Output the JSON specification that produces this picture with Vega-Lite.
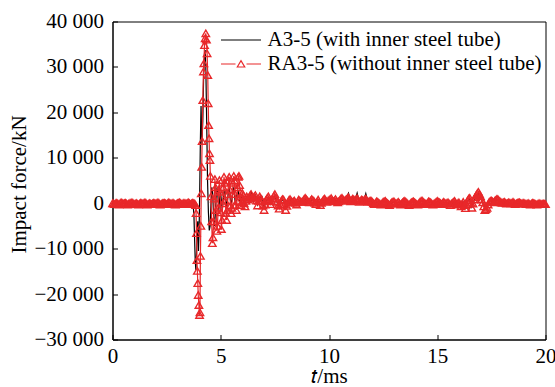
{
"$schema": "https://vega.github.io/schema/vega-lite/v6.json",
"width": 433, "height": 318,
"autosize": {"type": "none"},
"padding": {"left": 112.5, "top": 21.5, "right": 9.5, "bottom": 47.5},
"background": "white",
"config": {
 "font": "Liberation Serif",
 "view": {"stroke": "black", "strokeWidth": 1},
 "axis": {"domainColor": "black", "domainWidth": 1, "tickColor": "black", "tickSize": -5, "tickWidth": 1, "labelFontSize": 21, "labelColor": "black", "titleFontSize": 21, "titleColor": "black", "titleFontWeight": "normal", "grid": false, "labelFont": "Liberation Serif", "titleFont": "Liberation Serif"}
},
"data": {"values": [
{"s":"A","t":0,"f":0},{"s":"A","t":0.2,"f":100},{"s":"A","t":0.4,"f":-100},{"s":"A","t":0.6,"f":50},{"s":"A","t":0.8,"f":-150},{"s":"A","t":1.0,"f":100},{"s":"A","t":1.2,"f":-50},{"s":"A","t":1.4,"f":150},{"s":"A","t":1.6,"f":-100},{"s":"A","t":1.8,"f":0},{"s":"A","t":2.0,"f":100},{"s":"A","t":2.2,"f":-150},{"s":"A","t":2.4,"f":50},{"s":"A","t":2.6,"f":-50},{"s":"A","t":2.8,"f":150},{"s":"A","t":3.0,"f":-100},{"s":"A","t":3.2,"f":50},{"s":"A","t":3.4,"f":-100},{"s":"A","t":3.6,"f":100},{"s":"A","t":3.68,"f":0},{"s":"A","t":3.72,"f":-200},{"s":"A","t":3.76,"f":-2500},{"s":"A","t":3.79,"f":-7500},{"s":"A","t":3.82,"f":-12500},{"s":"A","t":3.85,"f":-14700},{"s":"A","t":3.88,"f":-11500},{"s":"A","t":3.91,"f":-5000},{"s":"A","t":3.94,"f":-4000},{"s":"A","t":3.97,"f":-10500},{"s":"A","t":4.0,"f":-6000},{"s":"A","t":4.03,"f":3000},{"s":"A","t":4.06,"f":14000},{"s":"A","t":4.09,"f":21400},{"s":"A","t":4.13,"f":13000},{"s":"A","t":4.17,"f":18000},{"s":"A","t":4.21,"f":28000},{"s":"A","t":4.25,"f":33000},{"s":"A","t":4.28,"f":33700},{"s":"A","t":4.31,"f":30000},{"s":"A","t":4.35,"f":18000},{"s":"A","t":4.39,"f":5000},{"s":"A","t":4.43,"f":-2000},{"s":"A","t":4.47,"f":-6000},{"s":"A","t":4.51,"f":-5000},{"s":"A","t":4.55,"f":0},{"s":"A","t":4.59,"f":3500},{"s":"A","t":4.63,"f":2000},{"s":"A","t":4.67,"f":-3000},{"s":"A","t":4.71,"f":-5000},{"s":"A","t":4.75,"f":-2500},{"s":"A","t":4.79,"f":1500},{"s":"A","t":4.83,"f":3500},{"s":"A","t":4.87,"f":1500},{"s":"A","t":4.91,"f":-1500},{"s":"A","t":4.95,"f":1000},{"s":"A","t":4.99,"f":2500},{"s":"A","t":5.03,"f":500},{"s":"A","t":5.07,"f":-1500},{"s":"A","t":5.11,"f":500},{"s":"A","t":5.15,"f":2500},{"s":"A","t":5.19,"f":3000},{"s":"A","t":5.23,"f":1000},{"s":"A","t":5.27,"f":-1000},{"s":"A","t":5.31,"f":500},{"s":"A","t":5.35,"f":2500},{"s":"A","t":5.39,"f":3500},{"s":"A","t":5.43,"f":1500},{"s":"A","t":5.47,"f":-500},{"s":"A","t":5.51,"f":500},{"s":"A","t":5.55,"f":2500},{"s":"A","t":5.59,"f":3500},{"s":"A","t":5.63,"f":2000},{"s":"A","t":5.67,"f":0},{"s":"A","t":5.71,"f":500},{"s":"A","t":5.75,"f":2000},{"s":"A","t":5.79,"f":3000},{"s":"A","t":5.83,"f":2000},{"s":"A","t":5.87,"f":500},{"s":"A","t":5.91,"f":0},{"s":"A","t":5.95,"f":1200},
{"s":"A","t":6.0,"f":1500},{"s":"A","t":6.1,"f":-500},{"s":"A","t":6.2,"f":1000},{"s":"A","t":6.3,"f":500},{"s":"A","t":6.4,"f":2700},{"s":"A","t":6.5,"f":200},{"s":"A","t":6.6,"f":2000},{"s":"A","t":6.7,"f":-300},{"s":"A","t":6.8,"f":1200},{"s":"A","t":6.9,"f":1500},{"s":"A","t":7.0,"f":-800},{"s":"A","t":7.1,"f":600},{"s":"A","t":7.2,"f":1200},{"s":"A","t":7.3,"f":0},{"s":"A","t":7.4,"f":800},{"s":"A","t":7.5,"f":1500},{"s":"A","t":7.6,"f":200},{"s":"A","t":7.7,"f":-800},{"s":"A","t":7.8,"f":500},{"s":"A","t":7.9,"f":700},{"s":"A","t":8.0,"f":-1000},{"s":"A","t":8.1,"f":300},{"s":"A","t":8.2,"f":800},{"s":"A","t":8.3,"f":100},{"s":"A","t":8.4,"f":500},{"s":"A","t":8.5,"f":-200},{"s":"A","t":8.6,"f":700},{"s":"A","t":8.7,"f":200},{"s":"A","t":8.8,"f":400},{"s":"A","t":8.9,"f":1000},{"s":"A","t":9.0,"f":500},{"s":"A","t":9.1,"f":100},{"s":"A","t":9.2,"f":800},{"s":"A","t":9.3,"f":400},{"s":"A","t":9.4,"f":-100},{"s":"A","t":9.5,"f":700},{"s":"A","t":9.6,"f":-300},{"s":"A","t":9.7,"f":400},{"s":"A","t":9.8,"f":900},{"s":"A","t":9.9,"f":200},{"s":"A","t":10.0,"f":600},{"s":"A","t":10.1,"f":1000},{"s":"A","t":10.2,"f":300},{"s":"A","t":10.3,"f":800},{"s":"A","t":10.4,"f":200},{"s":"A","t":10.5,"f":600},{"s":"A","t":10.6,"f":1000},{"s":"A","t":10.7,"f":300},{"s":"A","t":10.8,"f":1200},{"s":"A","t":10.9,"f":2200},{"s":"A","t":11.0,"f":300},{"s":"A","t":11.1,"f":1500},{"s":"A","t":11.2,"f":500},{"s":"A","t":11.3,"f":2200},{"s":"A","t":11.4,"f":200},{"s":"A","t":11.5,"f":1300},{"s":"A","t":11.6,"f":400},{"s":"A","t":11.7,"f":2100},{"s":"A","t":11.8,"f":200},{"s":"A","t":11.9,"f":700},
{"s":"A","t":12.0,"f":200},{"s":"A","t":12.1,"f":-100},{"s":"A","t":12.2,"f":300},{"s":"A","t":12.3,"f":0},{"s":"A","t":12.4,"f":-200},{"s":"A","t":12.5,"f":200},{"s":"A","t":12.6,"f":400},{"s":"A","t":12.7,"f":100},{"s":"A","t":12.8,"f":-300},{"s":"A","t":12.9,"f":100},{"s":"A","t":13.0,"f":300},{"s":"A","t":13.1,"f":0},{"s":"A","t":13.2,"f":200},{"s":"A","t":13.3,"f":-200},{"s":"A","t":13.4,"f":100},{"s":"A","t":13.5,"f":400},{"s":"A","t":13.6,"f":0},{"s":"A","t":13.7,"f":-300},{"s":"A","t":13.8,"f":100},{"s":"A","t":13.9,"f":300},{"s":"A","t":14.0,"f":100},{"s":"A","t":14.1,"f":-200},{"s":"A","t":14.2,"f":200},{"s":"A","t":14.3,"f":500},{"s":"A","t":14.4,"f":0},{"s":"A","t":14.5,"f":-100},{"s":"A","t":14.6,"f":300},{"s":"A","t":14.7,"f":100},{"s":"A","t":14.8,"f":-200},{"s":"A","t":14.9,"f":0},{"s":"A","t":15.0,"f":400},{"s":"A","t":15.1,"f":100},{"s":"A","t":15.2,"f":-100},{"s":"A","t":15.3,"f":200},{"s":"A","t":15.4,"f":0},{"s":"A","t":15.5,"f":100},{"s":"A","t":15.6,"f":-300},{"s":"A","t":15.7,"f":0},{"s":"A","t":15.8,"f":400},{"s":"A","t":15.9,"f":-200},{"s":"A","t":16.0,"f":100},{"s":"A","t":16.1,"f":-500},{"s":"A","t":16.2,"f":200},{"s":"A","t":16.3,"f":-900},{"s":"A","t":16.4,"f":500},{"s":"A","t":16.5,"f":1000},{"s":"A","t":16.6,"f":-800},{"s":"A","t":16.7,"f":600},{"s":"A","t":16.8,"f":1500},{"s":"A","t":16.9,"f":2200},{"s":"A","t":17.0,"f":1200},{"s":"A","t":17.1,"f":100},{"s":"A","t":17.2,"f":-1200},{"s":"A","t":17.3,"f":-800},{"s":"A","t":17.4,"f":200},{"s":"A","t":17.5,"f":500},{"s":"A","t":17.6,"f":100},{"s":"A","t":17.7,"f":600},{"s":"A","t":17.8,"f":800},{"s":"A","t":17.9,"f":300},{"s":"A","t":18.0,"f":0},{"s":"A","t":18.1,"f":200},{"s":"A","t":18.2,"f":-100},{"s":"A","t":18.3,"f":100},{"s":"A","t":18.4,"f":0},{"s":"A","t":18.5,"f":200},{"s":"A","t":18.6,"f":-100},{"s":"A","t":18.7,"f":0},{"s":"A","t":18.8,"f":100},{"s":"A","t":18.9,"f":-100},{"s":"A","t":19.0,"f":0},{"s":"A","t":19.1,"f":-100},{"s":"A","t":19.2,"f":0},{"s":"A","t":19.3,"f":-200},{"s":"A","t":19.4,"f":0},{"s":"A","t":19.5,"f":-100},{"s":"A","t":19.6,"f":-200},{"s":"A","t":19.7,"f":0},{"s":"A","t":19.8,"f":-100},{"s":"A","t":19.9,"f":-100},{"s":"A","t":20.0,"f":-100},
{"s":"R","t":0,"f":0},{"s":"R","t":0.05,"f":-100},{"s":"R","t":0.1,"f":-200},{"s":"R","t":0.15,"f":0},{"s":"R","t":0.2,"f":100},{"s":"R","t":0.25,"f":-100},{"s":"R","t":0.3,"f":-300},{"s":"R","t":0.35,"f":0},{"s":"R","t":0.4,"f":200},{"s":"R","t":0.45,"f":50},{"s":"R","t":0.5,"f":-100},{"s":"R","t":0.55,"f":0},{"s":"R","t":0.6,"f":100},{"s":"R","t":0.65,"f":-100},{"s":"R","t":0.7,"f":-300},{"s":"R","t":0.75,"f":-100},{"s":"R","t":0.8,"f":0},{"s":"R","t":0.85,"f":100},{"s":"R","t":0.9,"f":200},{"s":"R","t":0.95,"f":0},{"s":"R","t":1.0,"f":-200},{"s":"R","t":1.05,"f":-100},{"s":"R","t":1.1,"f":0},{"s":"R","t":1.15,"f":-150},{"s":"R","t":1.2,"f":-300},{"s":"R","t":1.25,"f":-100},{"s":"R","t":1.3,"f":100},{"s":"R","t":1.35,"f":0},{"s":"R","t":1.4,"f":-100},{"s":"R","t":1.45,"f":50},{"s":"R","t":1.5,"f":200},{"s":"R","t":1.55,"f":0},{"s":"R","t":1.6,"f":-300},{"s":"R","t":1.65,"f":-150},{"s":"R","t":1.7,"f":0},{"s":"R","t":1.75,"f":-100},{"s":"R","t":1.8,"f":-200},{"s":"R","t":1.85,"f":-50},{"s":"R","t":1.9,"f":100},{"s":"R","t":1.95,"f":0},{"s":"R","t":2.0,"f":-100},{"s":"R","t":2.05,"f":50},{"s":"R","t":2.1,"f":200},{"s":"R","t":2.15,"f":0},{"s":"R","t":2.2,"f":-300},{"s":"R","t":2.25,"f":-150},{"s":"R","t":2.3,"f":0},{"s":"R","t":2.35,"f":50},{"s":"R","t":2.4,"f":100},{"s":"R","t":2.45,"f":-50},{"s":"R","t":2.5,"f":-200},{"s":"R","t":2.55,"f":0},{"s":"R","t":2.6,"f":200},{"s":"R","t":2.65,"f":50},{"s":"R","t":2.7,"f":-100},{"s":"R","t":2.75,"f":0},{"s":"R","t":2.8,"f":100},{"s":"R","t":2.85,"f":-100},{"s":"R","t":2.9,"f":-300},{"s":"R","t":2.95,"f":-150},{"s":"R","t":3.0,"f":0},{"s":"R","t":3.05,"f":100},{"s":"R","t":3.1,"f":200},{"s":"R","t":3.15,"f":0},{"s":"R","t":3.2,"f":-200},{"s":"R","t":3.25,"f":-50},{"s":"R","t":3.3,"f":100},{"s":"R","t":3.35,"f":0},{"s":"R","t":3.4,"f":-100},{"s":"R","t":3.45,"f":50},{"s":"R","t":3.5,"f":200},{"s":"R","t":3.55,"f":0},{"s":"R","t":3.6,"f":-200},{"s":"R","t":3.65,"f":-50},{"s":"R","t":3.7,"f":100},{"s":"R","t":3.75,"f":0},{"s":"R","t":3.8,"f":-100},
{"s":"R","t":3.84,"f":-400},{"s":"R","t":3.86,"f":-2200},{"s":"R","t":3.88,"f":-6600},{"s":"R","t":3.9,"f":-12500},{"s":"R","t":3.92,"f":-14900},{"s":"R","t":3.94,"f":-17600},{"s":"R","t":3.96,"f":-20200},{"s":"R","t":3.99,"f":-22400},{"s":"R","t":4.02,"f":-24600},{"s":"R","t":4.04,"f":-24000},{"s":"R","t":4.06,"f":-11600},{"s":"R","t":4.08,"f":-5000},{"s":"R","t":4.1,"f":2200},{"s":"R","t":4.12,"f":8000},{"s":"R","t":4.14,"f":13700},{"s":"R","t":4.17,"f":22700},{"s":"R","t":4.2,"f":29000},{"s":"R","t":4.22,"f":30800},{"s":"R","t":4.25,"f":34800},{"s":"R","t":4.28,"f":36300},{"s":"R","t":4.31,"f":37400},{"s":"R","t":4.34,"f":36000},{"s":"R","t":4.37,"f":33000},{"s":"R","t":4.4,"f":28200},{"s":"R","t":4.42,"f":22000},{"s":"R","t":4.44,"f":17200},{"s":"R","t":4.46,"f":14300},{"s":"R","t":4.48,"f":11000},{"s":"R","t":4.5,"f":9500},{"s":"R","t":4.52,"f":6000},{"s":"R","t":4.55,"f":1500},{"s":"R","t":4.58,"f":-4000},{"s":"R","t":4.61,"f":-8800},{"s":"R","t":4.64,"f":-7500},{"s":"R","t":4.67,"f":-4000},{"s":"R","t":4.7,"f":1000},{"s":"R","t":4.73,"f":5300},{"s":"R","t":4.76,"f":3500},{"s":"R","t":4.79,"f":-1500},{"s":"R","t":4.82,"f":-6100},{"s":"R","t":4.85,"f":-5000},{"s":"R","t":4.88,"f":-1000},{"s":"R","t":4.91,"f":3000},{"s":"R","t":4.94,"f":5100},{"s":"R","t":4.97,"f":2500},{"s":"R","t":5.0,"f":-2000},{"s":"R","t":5.03,"f":-5700},{"s":"R","t":5.06,"f":-3700},{"s":"R","t":5.09,"f":0},{"s":"R","t":5.12,"f":3500},{"s":"R","t":5.15,"f":5800},{"s":"R","t":5.18,"f":4500},{"s":"R","t":5.21,"f":500},{"s":"R","t":5.24,"f":-2200},{"s":"R","t":5.27,"f":-3700},{"s":"R","t":5.3,"f":-1500},{"s":"R","t":5.33,"f":2000},{"s":"R","t":5.36,"f":5000},{"s":"R","t":5.39,"f":5800},{"s":"R","t":5.42,"f":3000},{"s":"R","t":5.45,"f":-500},{"s":"R","t":5.48,"f":-2200},{"s":"R","t":5.51,"f":-1000},{"s":"R","t":5.54,"f":2000},{"s":"R","t":5.57,"f":4500},{"s":"R","t":5.6,"f":6000},{"s":"R","t":5.63,"f":5000},{"s":"R","t":5.66,"f":2000},{"s":"R","t":5.69,"f":-400},{"s":"R","t":5.72,"f":-1500},{"s":"R","t":5.75,"f":500},{"s":"R","t":5.78,"f":3500},{"s":"R","t":5.81,"f":5800},{"s":"R","t":5.84,"f":6000},{"s":"R","t":5.87,"f":4000},{"s":"R","t":5.9,"f":1500},{"s":"R","t":5.93,"f":-400},{"s":"R","t":5.96,"f":200},{"s":"R","t":6.0,"f":2200},{"s":"R","t":6.04,"f":1800},{"s":"R","t":6.08,"f":0},{"s":"R","t":6.12,"f":-700},{"s":"R","t":6.16,"f":500},
{"s":"R","t":6.2,"f":1500},{"s":"R","t":6.25,"f":800},{"s":"R","t":6.3,"f":1200},{"s":"R","t":6.35,"f":1700},{"s":"R","t":6.4,"f":2000},{"s":"R","t":6.45,"f":1300},{"s":"R","t":6.5,"f":1000},{"s":"R","t":6.55,"f":1500},{"s":"R","t":6.6,"f":1800},{"s":"R","t":6.65,"f":600},{"s":"R","t":6.7,"f":-500},{"s":"R","t":6.75,"f":500},{"s":"R","t":6.8,"f":1500},{"s":"R","t":6.85,"f":1000},{"s":"R","t":6.9,"f":500},{"s":"R","t":6.95,"f":-500},{"s":"R","t":7.0,"f":-1500},{"s":"R","t":7.05,"f":-300},{"s":"R","t":7.1,"f":800},{"s":"R","t":7.15,"f":1200},{"s":"R","t":7.2,"f":1500},{"s":"R","t":7.25,"f":600},{"s":"R","t":7.3,"f":-200},{"s":"R","t":7.35,"f":400},{"s":"R","t":7.4,"f":1000},{"s":"R","t":7.45,"f":1600},{"s":"R","t":7.5,"f":2000},{"s":"R","t":7.55,"f":1200},{"s":"R","t":7.6,"f":300},{"s":"R","t":7.65,"f":-500},{"s":"R","t":7.7,"f":-1200},{"s":"R","t":7.75,"f":-200},{"s":"R","t":7.8,"f":600},{"s":"R","t":7.85,"f":900},{"s":"R","t":7.9,"f":800},{"s":"R","t":7.95,"f":-300},{"s":"R","t":8.0,"f":-1500},{"s":"R","t":8.05,"f":-600},{"s":"R","t":8.1,"f":200},{"s":"R","t":8.15,"f":700},{"s":"R","t":8.2,"f":900},{"s":"R","t":8.25,"f":500},{"s":"R","t":8.3,"f":200},{"s":"R","t":8.35,"f":400},{"s":"R","t":8.4,"f":600},{"s":"R","t":8.45,"f":100},{"s":"R","t":8.5,"f":-300},{"s":"R","t":8.55,"f":300},{"s":"R","t":8.6,"f":800},{"s":"R","t":8.65,"f":600},{"s":"R","t":8.7,"f":300},{"s":"R","t":8.75,"f":300},{"s":"R","t":8.8,"f":500},{"s":"R","t":8.85,"f":900},{"s":"R","t":8.9,"f":1200},{"s":"R","t":8.95,"f":900},{"s":"R","t":9.0,"f":600},{"s":"R","t":9.05,"f":300},{"s":"R","t":9.1,"f":200},{"s":"R","t":9.15,"f":600},{"s":"R","t":9.2,"f":900},{"s":"R","t":9.25,"f":700},{"s":"R","t":9.3,"f":500},{"s":"R","t":9.35,"f":100},{"s":"R","t":9.4,"f":-200},{"s":"R","t":9.45,"f":300},{"s":"R","t":9.5,"f":800},{"s":"R","t":9.55,"f":200},{"s":"R","t":9.6,"f":-400},{"s":"R","t":9.65,"f":100},{"s":"R","t":9.7,"f":500},{"s":"R","t":9.75,"f":800},{"s":"R","t":9.8,"f":1000},{"s":"R","t":9.85,"f":600},{"s":"R","t":9.9,"f":300},{"s":"R","t":9.95,"f":500},{"s":"R","t":10.0,"f":700},{"s":"R","t":10.05,"f":900},{"s":"R","t":10.1,"f":1100},{"s":"R","t":10.15,"f":700},{"s":"R","t":10.2,"f":400},{"s":"R","t":10.25,"f":600},{"s":"R","t":10.3,"f":900},{"s":"R","t":10.35,"f":500},{"s":"R","t":10.4,"f":200},{"s":"R","t":10.45,"f":400},{"s":"R","t":10.5,"f":700},{"s":"R","t":10.55,"f":1000},{"s":"R","t":10.6,"f":1200},{"s":"R","t":10.65,"f":800},{"s":"R","t":10.7,"f":500},{"s":"R","t":10.75,"f":700},{"s":"R","t":10.8,"f":900},{"s":"R","t":10.85,"f":1100},{"s":"R","t":10.9,"f":1300},{"s":"R","t":10.95,"f":800},{"s":"R","t":11.0,"f":400},{"s":"R","t":11.05,"f":700},{"s":"R","t":11.1,"f":1000},{"s":"R","t":11.15,"f":800},{"s":"R","t":11.2,"f":600},{"s":"R","t":11.25,"f":900},{"s":"R","t":11.3,"f":1100},{"s":"R","t":11.35,"f":700},{"s":"R","t":11.4,"f":300},{"s":"R","t":11.45,"f":500},{"s":"R","t":11.5,"f":800},{"s":"R","t":11.55,"f":700},{"s":"R","t":11.6,"f":500},{"s":"R","t":11.65,"f":800},{"s":"R","t":11.7,"f":1000},{"s":"R","t":11.75,"f":600},{"s":"R","t":11.8,"f":300},{"s":"R","t":11.85,"f":400},{"s":"R","t":11.9,"f":600},{"s":"R","t":11.95,"f":500},
{"s":"R","t":12.0,"f":300},{"s":"R","t":12.05,"f":0},{"s":"R","t":12.1,"f":-200},{"s":"R","t":12.15,"f":100},{"s":"R","t":12.2,"f":400},{"s":"R","t":12.25,"f":300},{"s":"R","t":12.3,"f":100},{"s":"R","t":12.35,"f":-100},{"s":"R","t":12.4,"f":-300},{"s":"R","t":12.45,"f":0},{"s":"R","t":12.5,"f":300},{"s":"R","t":12.55,"f":400},{"s":"R","t":12.6,"f":500},{"s":"R","t":12.65,"f":200},{"s":"R","t":12.7,"f":0},{"s":"R","t":12.75,"f":-200},{"s":"R","t":12.8,"f":-400},{"s":"R","t":12.85,"f":-100},{"s":"R","t":12.9,"f":200},{"s":"R","t":12.95,"f":300},{"s":"R","t":13.0,"f":400},{"s":"R","t":13.05,"f":100},{"s":"R","t":13.1,"f":-100},{"s":"R","t":13.15,"f":100},{"s":"R","t":13.2,"f":300},{"s":"R","t":13.25,"f":0},{"s":"R","t":13.3,"f":-300},{"s":"R","t":13.35,"f":-100},{"s":"R","t":13.4,"f":200},{"s":"R","t":13.45,"f":400},{"s":"R","t":13.5,"f":500},{"s":"R","t":13.55,"f":300},{"s":"R","t":13.6,"f":100},{"s":"R","t":13.65,"f":-200},{"s":"R","t":13.7,"f":-400},{"s":"R","t":13.75,"f":-100},{"s":"R","t":13.8,"f":200},{"s":"R","t":13.85,"f":300},{"s":"R","t":13.9,"f":400},{"s":"R","t":13.95,"f":200},{"s":"R","t":14.0,"f":0},{"s":"R","t":14.05,"f":-200},{"s":"R","t":14.1,"f":-300},{"s":"R","t":14.15,"f":0},{"s":"R","t":14.2,"f":300},{"s":"R","t":14.25,"f":500},{"s":"R","t":14.3,"f":600},{"s":"R","t":14.35,"f":300},{"s":"R","t":14.4,"f":100},{"s":"R","t":14.45,"f":-100},{"s":"R","t":14.5,"f":-200},{"s":"R","t":14.55,"f":100},{"s":"R","t":14.6,"f":400},{"s":"R","t":14.65,"f":300},{"s":"R","t":14.7,"f":200},{"s":"R","t":14.75,"f":-100},{"s":"R","t":14.8,"f":-300},{"s":"R","t":14.85,"f":-100},{"s":"R","t":14.9,"f":100},{"s":"R","t":14.95,"f":300},{"s":"R","t":15.0,"f":500},{"s":"R","t":15.05,"f":300},{"s":"R","t":15.1,"f":200},{"s":"R","t":15.15,"f":0},{"s":"R","t":15.2,"f":-200},{"s":"R","t":15.25,"f":100},{"s":"R","t":15.3,"f":300},{"s":"R","t":15.35,"f":100},{"s":"R","t":15.4,"f":-100},{"s":"R","t":15.45,"f":100},{"s":"R","t":15.5,"f":200},{"s":"R","t":15.55,"f":-100},{"s":"R","t":15.6,"f":-400},{"s":"R","t":15.65,"f":-100},{"s":"R","t":15.7,"f":100},{"s":"R","t":15.75,"f":300},{"s":"R","t":15.8,"f":500},{"s":"R","t":15.85,"f":100},{"s":"R","t":15.9,"f":-300},{"s":"R","t":15.95,"f":0},{"s":"R","t":16.0,"f":200},{"s":"R","t":16.05,"f":-200},{"s":"R","t":16.1,"f":-700},{"s":"R","t":16.15,"f":-200},{"s":"R","t":16.2,"f":300},{"s":"R","t":16.25,"f":-400},{"s":"R","t":16.3,"f":-1100},{"s":"R","t":16.35,"f":-200},{"s":"R","t":16.4,"f":600},{"s":"R","t":16.45,"f":1000},{"s":"R","t":16.5,"f":1200},{"s":"R","t":16.55,"f":100},{"s":"R","t":16.6,"f":-1000},{"s":"R","t":16.65,"f":-100},{"s":"R","t":16.7,"f":800},{"s":"R","t":16.75,"f":1300},{"s":"R","t":16.8,"f":1800},{"s":"R","t":16.85,"f":2200},{"s":"R","t":16.9,"f":2500},{"s":"R","t":16.95,"f":2000},{"s":"R","t":17.0,"f":1500},{"s":"R","t":17.05,"f":800},{"s":"R","t":17.1,"f":200},{"s":"R","t":17.15,"f":-700},{"s":"R","t":17.2,"f":-1500},{"s":"R","t":17.25,"f":-1300},{"s":"R","t":17.3,"f":-1000},{"s":"R","t":17.35,"f":-300},{"s":"R","t":17.4,"f":300},{"s":"R","t":17.45,"f":500},{"s":"R","t":17.5,"f":600},{"s":"R","t":17.55,"f":400},{"s":"R","t":17.6,"f":200},{"s":"R","t":17.65,"f":500},{"s":"R","t":17.7,"f":700},{"s":"R","t":17.75,"f":900},{"s":"R","t":17.8,"f":900},{"s":"R","t":17.85,"f":600},{"s":"R","t":17.9,"f":400},{"s":"R","t":17.95,"f":200},{"s":"R","t":18.0,"f":100},{"s":"R","t":18.05,"f":200},{"s":"R","t":18.1,"f":300},{"s":"R","t":18.15,"f":100},{"s":"R","t":18.2,"f":-100},{"s":"R","t":18.25,"f":50},{"s":"R","t":18.3,"f":200},{"s":"R","t":18.35,"f":100},{"s":"R","t":18.4,"f":0},{"s":"R","t":18.45,"f":100},{"s":"R","t":18.5,"f":300},{"s":"R","t":18.55,"f":100},{"s":"R","t":18.6,"f":-200},{"s":"R","t":18.65,"f":-50},{"s":"R","t":18.7,"f":100},{"s":"R","t":18.75,"f":150},{"s":"R","t":18.8,"f":200},{"s":"R","t":18.85,"f":50},{"s":"R","t":18.9,"f":-100},{"s":"R","t":18.95,"f":0},{"s":"R","t":19.0,"f":100},{"s":"R","t":19.05,"f":-50},{"s":"R","t":19.1,"f":-200},{"s":"R","t":19.15,"f":-100},{"s":"R","t":19.2,"f":0},{"s":"R","t":19.25,"f":-150},{"s":"R","t":19.3,"f":-300},{"s":"R","t":19.35,"f":-100},{"s":"R","t":19.4,"f":100},{"s":"R","t":19.45,"f":0},{"s":"R","t":19.5,"f":-100},{"s":"R","t":19.55,"f":-200},{"s":"R","t":19.6,"f":-300},{"s":"R","t":19.65,"f":-150},{"s":"R","t":19.7,"f":0},{"s":"R","t":19.75,"f":-100},{"s":"R","t":19.8,"f":-200},{"s":"R","t":19.85,"f":-150},{"s":"R","t":19.9,"f":-100},{"s":"R","t":19.95,"f":-150},{"s":"R","t":20.0,"f":-200}
]},
"encoding": {
 "x": {"field": "t", "type": "quantitative", "scale": {"domain": [0, 20], "nice": false},
   "axis": {"values": [0, 5, 10, 15, 20], "title": "𝑡/ms", "labelFont": "Liberation Serif", "labelFontSize": 21, "labelPadding": 11, "labelFlush": false, "titleY": 43, "titleBaseline": "alphabetic"}},
 "y": {"field": "f", "type": "quantitative", "scale": {"domain": [-30000, 40000], "nice": false},
   "axis": {"values": [-30000, -20000, -10000, 0, 10000, 20000, 30000, 40000], "labelExpr": "replace(datum.label, ',', ' ')", "labelFont": "Liberation Serif", "labelFontSize": 21, "labelPadding": 14, "title": "Impact force/kN", "titleAngle": -90, "titleX": -93.5, "titleY": 162.5, "titleAlign": "center", "titleBaseline": "middle"}},
 "color": {"field": "s", "type": "nominal",
   "scale": {"domain": ["A", "R"], "range": ["#000000", "#e8282a"]},
   "legend": {"orient": "none", "legendX": 103, "legendY": 8, "title": null,
     "labelExpr": "datum.value === 'A' ? 'A3-5 (with inner steel tube)' : 'RA3-5 (without inner steel tube)'",
     "labelFontSize": 21, "labelFont": "Liberation Serif", "labelColor": "black", "labelLimit": 400,
     "symbolSize": 100, "symbolOffset": 15, "labelOffset": 16, "symbolStrokeWidth": 1.2, "rowPadding": 2,
     "encode": {"symbols": {"update": {"shape": {"signal": "datum.value === 'A' ? 'M-4,0H4' : 'M-4,0H-1.1M1.1,0H4M-0.75,0.6L0,-0.65L0.75,0.6Z'"}, "fill": {"value": "transparent"}}}}}}
},
"layer": [
 {"transform": [{"filter": "datum.s === 'A'"}], "mark": {"type": "line", "strokeWidth": 1.2}},
 {"transform": [{"filter": "datum.s === 'R'"}], "mark": {"type": "line", "strokeWidth": 1.2}},
 {"transform": [{"filter": "datum.s === 'R'"}], "mark": {"type": "point", "shape": "triangle-up", "filled": false, "size": 55, "strokeWidth": 1.4, "opacity": 1}}
]
}
